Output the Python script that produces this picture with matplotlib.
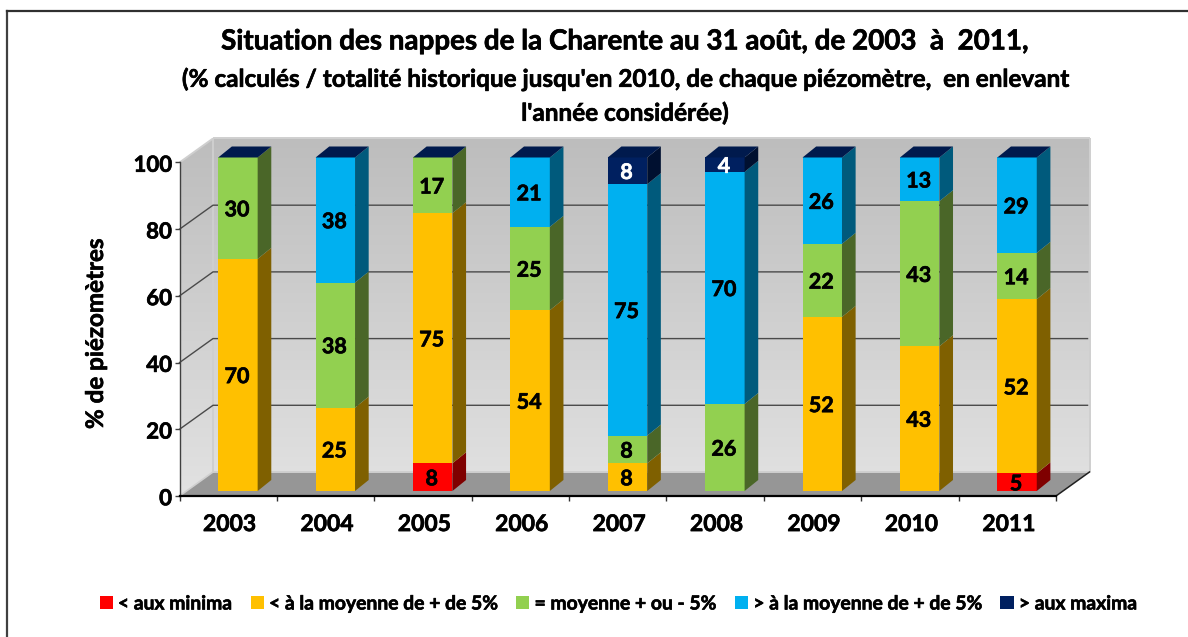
import numpy as np
import matplotlib
matplotlib.use("Agg")
import matplotlib.pyplot as plt
from matplotlib.patches import Polygon
from matplotlib.text import Text
import matplotlib.patheffects as pe

plt.rcParams['font.family'] = ['Lato', 'DejaVu Sans']
plt.rcParams['font.weight'] = 'bold'

years = ['2003', '2004', '2005', '2006', '2007', '2008', '2009', '2010', '2011']
minima = [0, 0, 8.3, 0, 0, 0, 0, 0, 5.3]
sous_moyenne = [69.6, 25, 75, 54.2, 8.3, 0, 52.2, 43.4, 52.2]
moyenne = [30.4, 37.5, 16.7, 25, 8.3, 26.1, 21.9, 43.49, 13.9]
sur_moyenne = [0, 37.5, 0, 20.8, 75.4, 69.6, 25.9, 13.11, 28.6]
maxima = [0, 0, 0, 0, 8.0, 4.3, 0, 0, 0]

series_values = [minima, sous_moyenne, moyenne, sur_moyenne, maxima]
series_names = ['< aux minima', '< à la moyenne de + de 5%', '= moyenne + ou - 5%',
                '> à la moyenne de + de 5%', '> aux maxima']
front_colors = ['#FF0000', '#FFC000', '#92D050', '#00B0F0', '#002060']
side_colors = ['#7F0000', '#7F6000', '#4A6628', '#005A7C', '#001030']
label_colors = ['black', 'black', 'black', 'black', 'white']

W, H = 1188, 637
fig = plt.figure(figsize=(W / 100, H / 100), dpi=100, facecolor='white')
L, R, T, B = 179.5, 1056.0, 162.5, 496.0
ax = fig.add_axes([L / W, 1 - B / H, (R - L) / W, (B - T) / H])
ax.set_facecolor('none')

n = len(years)
wall_dx, wall_dy = 0.344, 7.2
bar_dx, bar_dy = 0.14, 3.3
bar_w, bar_off, bar_base = 0.405, 0.6, 1.5

# walls with the vertical gradient
grad = np.linspace(0, 1, 256).reshape(-1, 1)
cmap = matplotlib.colors.LinearSegmentedColormap.from_list('wall', ['#BDBDBD', '#E2E2E2'])
wall_path = Polygon([(0, 0), (0, 100), (wall_dx, 100 + wall_dy), (n + wall_dx, 100 + wall_dy),
                     (n + wall_dx, wall_dy), (wall_dx, wall_dy)],
                    closed=True, transform=ax.transData, facecolor='none', edgecolor='none')
ax.add_patch(wall_path)
im = ax.imshow(grad, cmap=cmap, aspect='auto', origin='upper',
               extent=(0, n + wall_dx, 0, 100 + wall_dy), zorder=0, interpolation='bilinear')
im.set_clip_path(wall_path)
im.set_clip_box(fig.bbox)

# floor
ax.add_patch(Polygon([(0, 0), (n, 0), (n + wall_dx, wall_dy), (wall_dx, wall_dy)], closed=True,
                     facecolor='#969696', edgecolor='none', zorder=1, clip_on=False))

# wall edges
edge = dict(color='#CFCFCF', lw=1.4, zorder=1.2, clip_on=False, solid_capstyle='butt')
ax.plot([wall_dx, wall_dx], [wall_dy, 100 + wall_dy], **edge)
ax.plot([wall_dx, n + wall_dx], [wall_dy, wall_dy], **edge)
ax.plot([wall_dx, n + wall_dx], [100 + wall_dy, 100 + wall_dy], **edge)
ax.plot([n + wall_dx, n + wall_dx], [wall_dy, 100 + wall_dy], **edge)
ax.plot([0, wall_dx], [100, 100 + wall_dy], **edge)
ax.plot([0, wall_dx], [0, wall_dy], color='#CFCFCF', lw=1.2, zorder=1.2, clip_on=False)
ax.plot([n, n + wall_dx], [0, wall_dy], color='#202020', lw=1.1, zorder=1.3, clip_on=False)

# gridlines
for g in [20, 40, 60, 80]:
    ax.plot([0, wall_dx, n + wall_dx - 0.02], [g, g + wall_dy, g + wall_dy],
            color='#4A4A4A', lw=1.0, zorder=1.5, clip_on=False)

# stacked 3-D looking bars
x = np.arange(n) + bar_off
bottoms = np.full(n, bar_base, dtype=float)
for vals, name, fc, sc, lc in zip(series_values, series_names, front_colors, side_colors, label_colors):
    vals = np.array(vals, dtype=float)
    ax.bar(x, vals, bottom=bottoms, width=bar_w, color=fc, label=name,
           linewidth=0, zorder=3, clip_on=False)
    for xi, b, v in zip(x, bottoms, vals):
        if v <= 0:
            continue
        xr = xi + bar_w / 2
        ax.add_patch(Polygon([(xr, b), (xr + bar_dx, b + bar_dy), (xr + bar_dx, b + v + bar_dy), (xr, b + v)],
                             closed=True, facecolor=sc, edgecolor='none', zorder=3, clip_on=False))
        ax.text(xi - 0.01, b + v / 2 - 0.5, f'{v:.0f}', ha='center', va='center', fontsize=15.5,
                fontweight='bold', color=lc, zorder=5, clip_on=False)
    bottoms = bottoms + vals

# navy cap on every bar
for xi, top in zip(x, bottoms):
    xl, xr = xi - bar_w / 2, xi + bar_w / 2
    ax.add_patch(Polygon([(xl, top), (xr, top), (xr + bar_dx, top + bar_dy), (xl + bar_dx, top + bar_dy)],
                         closed=True, facecolor='#001A4D', edgecolor='none', zorder=4, clip_on=False))

ax.set_xlim(0, n)
ax.set_ylim(0, 100)

# axes
for s in ['top', 'right']:
    ax.spines[s].set_visible(False)
ax.spines['left'].set_color('#404040')
ax.spines['left'].set_linewidth(1.0)
ax.spines['bottom'].set_color('black')
ax.spines['bottom'].set_linewidth(1.6)
for s in ax.spines.values():
    s.set_zorder(6)
ax.set_yticks([0, 20, 40, 60, 80, 100])
ax.tick_params(axis='y', length=3.5, width=1, color='#404040', labelsize=16, pad=2)
ax.set_xticks(np.arange(n + 1))
ax.set_xticklabels([])
ax.tick_params(axis='x', which='major', length=3.5, width=1, color='#303030')
ax.set_xticks(np.arange(n) + 0.515, minor=True)
ax.set_xticklabels(years, minor=True, fontsize=16.5, fontweight='bold')
ax.tick_params(axis='x', which='minor', length=0, pad=13)
for t in ax.get_yticklabels():
    t.set_fontweight('bold')
    t.set_verticalalignment('center')
    t.set_transform(t.get_transform() + matplotlib.transforms.ScaledTranslation(0, -2 / 72, fig.dpi_scale_trans))
ax.set_ylabel('% de piézomètres', fontsize=17.4, fontweight='bold', labelpad=0)
ax.yaxis.set_label_coords((107 - L) / (R - L), 0.485)

# titles
cx = 625 / W
fig.text(cx, 1 - 41.5 / H, 'Situation des nappes de la Charente au 31 août, de 2003  à  2011,',
         ha='center', va='center', fontsize=20, fontweight='bold')
fig.text(cx, 1 - 79 / H, "(% calculés / totalité historique jusqu'en 2010, de chaque piézomètre,  en enlevant",
         ha='center', va='center', fontsize=17.5, fontweight='bold')
fig.text(cx, 1 - 113 / H, "l'année considérée)", ha='center', va='center', fontsize=17.5, fontweight='bold')

# legend
handles, labels = ax.get_legend_handles_labels()
leg = fig.legend(handles, labels, loc='center', ncols=5, frameon=False,
                 bbox_to_anchor=(618 / W, 1 - 604 / H),
                 handlelength=0.68, handleheight=0.68, handletextpad=0.27, columnspacing=1.0,
                 prop={'family': 'Lato', 'weight': 'bold', 'size': 13.9})

# chart frame: top and left edges
fig.add_artist(plt.Line2D([7 / W, 7 / W], [0, 1 - 11 / H], color='#404040', lw=1.6))
fig.add_artist(plt.Line2D([7 / W, 1], [1 - 11 / H, 1 - 11 / H], color='#303030', lw=1.6))

# slightly heavier strokes, closer to the reference's bold face
for t in fig.findobj(Text):
    if t.get_text():
        t.set_path_effects([pe.withStroke(linewidth=0.45, foreground=t.get_color())])

fig.savefig('out.png', dpi=100, facecolor='white')
